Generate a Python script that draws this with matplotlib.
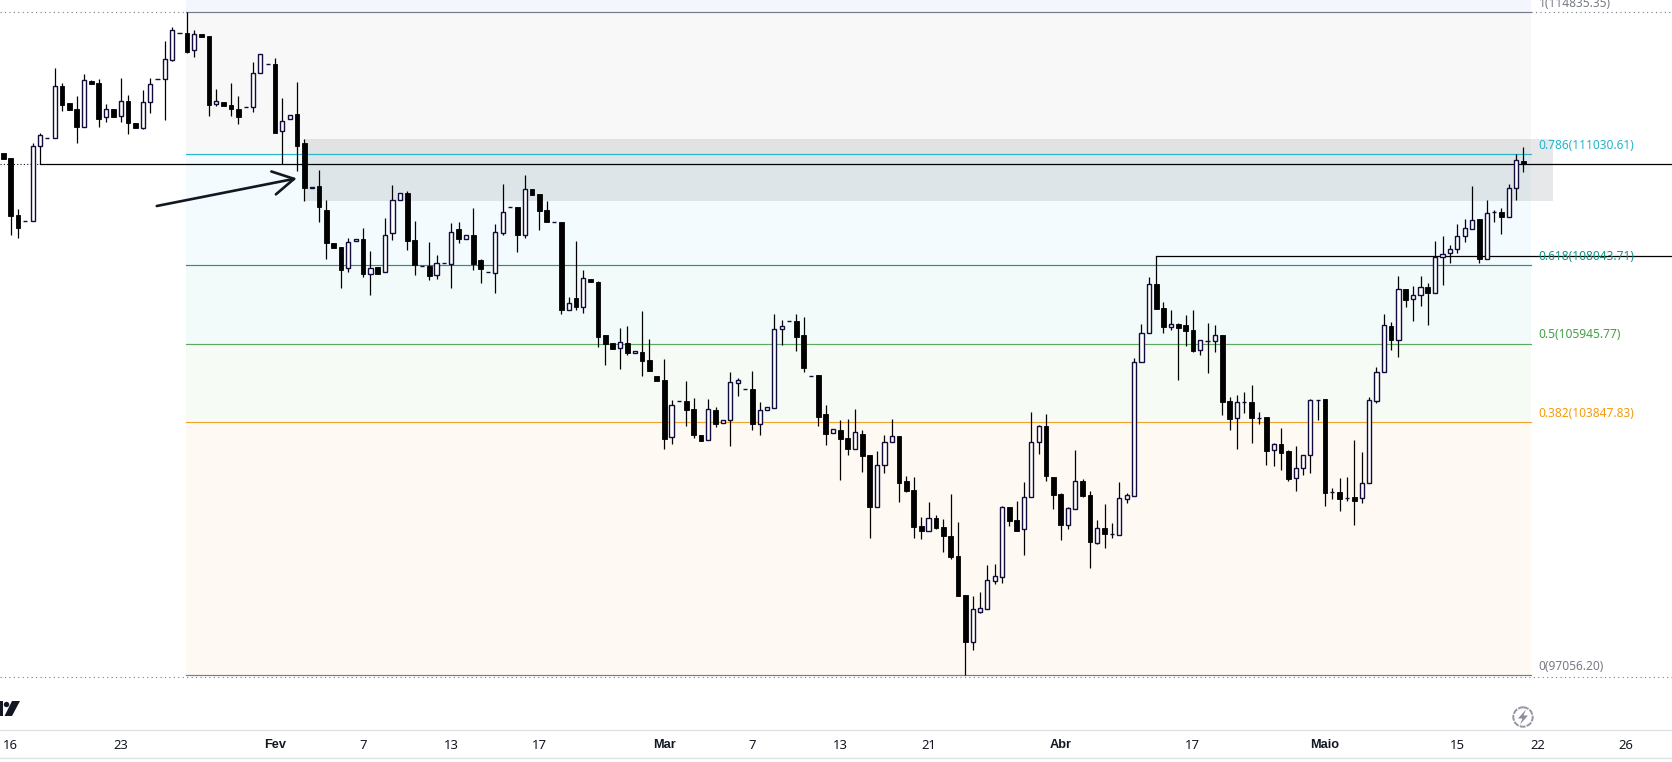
import matplotlib
matplotlib.use("Agg")
import matplotlib.pyplot as plt
from matplotlib.patches import Circle, Polygon, Rectangle
import numpy as np

#daily candles, oldest first
opens = [111050,110925,109395,109225,109225,111238,111453,111453,112849,112401,
112231,111766,112983,112929,112017,112231,112044,112446,111856,111739,
112419,113037,113037,113564,114271,114271,113815,114244,114191,112383,
112419,112339,112231,112285,112285,113198,113439,113439,111641,111963,
112097,111319,110111,110165,109520,108635,108527,107964,108688,108742,
107803,107991,107856,108903,109789,109977,108715,108026,108026,107776,
108098,108089,109010,108760,108858,108187,107865,107847,108921,109610,
109610,108867,110093,109959,109520,109198,109198,106836,107167,106917,
107668,107597,106165,105951,105816,105951,105682,105718,105503,105074,
104966,103428,104412,104403,104188,103490,103347,104161,103803,103884,
104877,104716,104725,103776,104152,104224,106326,106541,106541,106174,
105074,105101,104054,103535,103615,103401,103123,103517,102953,101567,
102694,103293,103463,102255,102014,101048,100922,101262,101021,100779,
100242,99196,97943,98748,98829,99580,99688,101558,101209,100958,
101817,103293,103732,102363,101907,101083,101513,102255,101880,100600,
100994,100824,100815,101763,101862,105441,106219,107534,106890,106398,
106461,106434,106308,105763,106013,106004,106174,104394,103938,104367,
104367,103947,103964,103079,103240,103061,102327,102596,102945,104430,
104456,101960,101951,101799,101826,101790,102193,104394,105172,106416,
106031,107400,107132,107239,107454,107293,108259,108366,108474,108823,
109028,109288,108205,109467,109467,109350,110129,110836]

highs = [111050,110925,109547,109225,111319,111587,111453,113332,112929,112401,
112580,113171,113019,113037,112366,112231,113063,112607,111856,112750,
113063,113037,114057,114432,114271,114835,114352,114244,114191,112768,
112419,112929,112580,112285,113493,113708,113439,113600,112527,112088,
112956,111426,110156,110594,109789,108635,108527,108769,108742,109037,
108420,107991,109306,110191,109977,110048,109234,108026,108662,108322,
108098,109180,109207,108849,109583,108223,107865,109154,110227,109610,
109610,110469,110093,109959,109762,109198,109198,107194,108697,107910,
107668,107624,106165,105951,106362,106416,105736,106818,106067,105074,
105530,104430,104412,104940,104483,103490,104456,104242,103884,105181,
105020,104716,105208,104376,104233,106738,106577,106541,106738,106657,
105074,105101,104295,103642,103893,103920,104188,103624,102953,103061,
103490,103920,103463,102390,102354,101289,101692,101343,101236,101907,
101155,99196,99169,99276,100001,100028,101576,101558,101719,102229,
104099,103759,104054,102363,101933,101558,103088,102309,101987,101209,
101638,101128,102229,101924,105548,106461,107731,108286,107051,106845,
106487,106711,106845,106031,106496,106443,106174,104510,104564,104644,
104832,104108,103964,103275,103678,103088,103195,102945,104448,104430,
104456,102068,102336,102363,103356,103034,104501,105315,106738,106514,
107758,107400,107490,107758,107570,108697,108832,108590,109154,109288,
110174,109288,109798,109529,109574,110218,111033,111211]

lows = [110907,108858,108787,109225,109225,110755,111453,111453,112196,112222,
111337,111766,112920,111766,111900,112035,111900,111578,111739,111713,
112142,113037,111954,113538,114271,113752,113627,114182,112061,112330,
112330,112061,111847,112285,112169,113198,113439,111605,110755,111963,
110585,109780,110111,109216,108223,108518,107445,107874,108688,107740,
107257,107821,107856,108724,109789,108465,107785,108026,107651,107686,
108098,107436,108653,108760,107928,107579,107865,107311,108858,109610,
108411,108787,109941,109002,109216,109198,106747,106836,106854,106774,
107606,105861,105378,105807,105271,105646,105682,105074,105217,104949,
103123,103258,104412,103741,103419,103338,103347,103714,103803,103204,
104546,104716,103633,103499,104152,104224,105915,106541,105754,105190,
105074,103732,103231,103535,102291,102962,103123,102506,100734,101567,
102479,103293,101701,101960,100734,100708,100922,100967,100350,100162,
99169,97056,97719,98721,98829,99491,99518,101048,100913,100269,
101817,102980,102255,101504,100672,100967,101513,101826,99920,100564,
100457,100726,100815,101665,101862,105441,106219,106881,106237,106317,
104975,105888,105727,105646,105163,105727,104036,103633,103123,104090,
103284,103794,102694,102667,102560,102265,101996,102425,102479,103893,
101593,101781,101459,101728,101083,101674,102193,104358,105172,105772,
105593,106935,106559,106953,106443,107293,107516,108116,108384,108679,
109010,108116,108205,109216,108885,109350,109798,110549]

closes = [110907,109377,109055,109225,111238,111551,111453,112849,112357,112222,
111766,113010,112920,111981,112231,112035,112446,111874,111739,112419,
112902,113037,113573,114352,114271,113779,114244,114182,112357,112446,
112330,112249,112035,112285,113198,113708,113439,111605,111927,112088,
111238,110129,110156,109601,108653,108518,107928,108679,108742,107821,
107982,107821,108867,109789,109977,108706,108044,108026,107767,108098,
108098,108930,108760,108849,108089,107955,107865,108930,109467,109610,
108867,110084,109941,109511,109216,109198,106854,107042,106935,107695,
107606,106130,105942,105807,105977,105700,105736,105485,105217,104949,
103392,104286,104412,104170,103499,103338,104179,103794,103884,104904,
104957,104716,103794,104152,104233,106326,106407,106541,106130,105297,
105074,103982,103526,103642,103392,103123,103562,102935,101567,102676,
103293,103454,102211,101987,101030,100913,101253,100994,100788,100216,
99169,97934,98811,98838,99589,99697,101549,101191,100913,101817,
103293,103723,102399,101880,101074,101522,102247,101853,100618,100985,
100833,100824,101790,101871,105441,106219,107534,106881,106398,106461,
106371,106291,105754,106031,106013,106165,104385,103929,104367,104367,
103956,103947,103070,103240,103016,102318,102596,102945,104421,104430,
101942,101960,101781,101799,101728,102193,104421,105172,106434,106049,
107400,107123,107239,107454,107293,108259,108357,108474,108823,109037,
109252,108205,109440,109467,109350,110111,110863,110755]

#fib retracement levels, top to bottom
fibRatios = [1, 0.786, 0.618, 0.5, 0.382, 0]
fibPrices = [114835.35, 111030.61, 108043.71, 105945.77, 103847.83, 97056.20]
fibLines = ["#787b86", "#2bb4c6", "#2a9080", "#5aab5f", "#f2a32b", "#787b86"]
fibText = ["#787b86", "#22b5c9", "#12968a", "#43a047", "#f59c0b", "#787b86"]
fibFills = ["#f8f8f9", "#f3fbfe", "#f3fafa", "#f6fbf5", "#fff9f3"]

#bottom axis, candle index of each label
tickPlaces = [1, 16, 37, 49, 61, 73, 90, 102, 114, 126, 144, 162, 180, 198, 209, 221]
tickLabels = ["16", "23", "Fev", "7", "13", "17", "Mar", "7", "13", "21", "Abr", "17", "Maio", "15", "22", "26"]
boldLabels = ["Fev", "Mar", "Abr", "Maio"]

#drawn levels
zoneTop = 111435
zoneBottom = 109780
supportOne = 110755
supportTwo = 108286

plt.rcParams['font.family'] = ['Noto Sans', 'DejaVu Sans']

fig = plt.figure(figsize=(16.72, 7.62), dpi=100, facecolor="white")
ax = fig.add_axes([0, 0, 1, 1])
ax.set_xlim(-0.45, 227.25)
ax.set_ylim(94713, 115166)
ax.axis("off")

fibLeft = 24.9
fibRight = 208.1

#fib backgrounds
ax.add_patch(Rectangle((fibLeft, fibPrices[0]), fibRight - fibLeft, 400, color="#f3f7fd", lw=0, zorder=1))
for i in range(len(fibFills)):
    ax.add_patch(Rectangle((fibLeft, fibPrices[i + 1]), fibRight - fibLeft, fibPrices[i] - fibPrices[i + 1],
                           color=fibFills[i], lw=0, zorder=1))

#grey zone goes past the end of the fib
ax.add_patch(Rectangle((41, zoneBottom), 211.1 - 41, zoneTop - zoneBottom, color="#6b7378", alpha=0.16, lw=0, zorder=2))

#fib lines and their labels
for i in range(len(fibPrices)):
    ax.plot([fibLeft, fibRight], [fibPrices[i], fibPrices[i]], color=fibLines[i], lw=0.85, zorder=3)
    ax.annotate("%g(%.2f)" % (fibRatios[i], fibPrices[i]), (209.1, fibPrices[i]), xytext=(0, 6.2),
                textcoords="offset points", color=fibText[i], fontsize=8.6, va="center", zorder=7,
                annotation_clip=False)

#dotted lines from the price range
ax.plot([-0.45, fibLeft], [114835, 114835], color="#787b86", lw=0.8, ls=(0, (1, 3)), zorder=3)
ax.plot([fibRight, 227.25], [114835, 114835], color="#787b86", lw=0.8, ls=(0, (1, 3)), zorder=3)
ax.plot([-0.45, 227.25], [97000, 97000], color="#787b86", lw=0.8, ls=(0, (1, 3)), zorder=3)
ax.plot([-0.45, 5], [supportOne, supportOne], color="#131722", lw=0.8, ls=(0, (1, 2)), zorder=3)

#horizontal lines
ax.plot([5, 227.25], [supportOne, supportOne], color="black", lw=0.9, zorder=4)
ax.plot([157, 227.25], [supportTwo, supportTwo], color="black", lw=0.9, zorder=4)

#candles
x = np.arange(len(opens))
o = np.array(opens)
c = np.array(closes)
up = c >= o
bottoms = np.minimum(o, c)
heights = np.abs(c - o)
ax.vlines(x, lows, highs, color="black", lw=0.9, zorder=5)
ax.bar(x[~up], heights[~up], 0.64, bottom=bottoms[~up], color="black", edgecolor="black", lw=0.6, zorder=6)
ax.bar(x[up], heights[up], 0.56, bottom=bottoms[up], color="white", edgecolor="#120c3c", lw=1.0, zorder=6)

#arrow
ax.annotate("", xy=(39.96, 110379), xytext=(20.9, 109637),
            arrowprops=dict(arrowstyle="->,head_length=0.75,head_width=0.42", color="#131722", lw=1.9,
                            shrinkA=0, shrinkB=0, mutation_scale=20), zorder=7)

#bottom axis labels
for i in range(len(tickPlaces)):
    if tickLabels[i] in boldLabels:
        ax.text(tickPlaces[i], 0.0223, tickLabels[i], transform=ax.get_xaxis_transform(), ha="center", va="center",
                fontsize=9.2, color="#131722", family="Liberation Sans", fontweight="bold", zorder=7)
    else:
        ax.text(tickPlaces[i], 0.0223, tickLabels[i], transform=ax.get_xaxis_transform(), ha="center", va="center",
                fontsize=9.4, color="#131722", zorder=7)

#pixel overlay for the page furniture
pix = fig.add_axes([0, 0, 1, 1], facecolor="none")
pix.set_xlim(0, 1672)
pix.set_ylim(762, 0)
pix.axis("off")
pix.plot([0, 1672], [730, 730], color="#e0e3e5", lw=1.0)
pix.plot([0, 1672], [758, 758], color="#e0e3e5", lw=1.0)

#piece of the logo at the left edge
pix.add_patch(Rectangle((0, 701), 3, 15, color="#131722", lw=0))
pix.add_patch(Circle((6.5, 704.5), 2.7, color="#131722", lw=0))
pix.add_patch(Polygon([[12, 701], [20, 701], [12, 716], [4.5, 716]], color="#131722", lw=0))

#bolt icon
pix.add_patch(Circle((1523, 717), 9.7, fill=False, edgecolor="#9a93a6", lw=1.4, ls=(0, (3, 0.6))))
pix.add_patch(Polygon([[1526, 709.5], [1518, 718.5], [1522.5, 718.5], [1520, 724.5], [1528, 715.5], [1523.5, 715.5]],
                      color="#8f8a99", lw=0))

fig.savefig("out.png", dpi=100)
